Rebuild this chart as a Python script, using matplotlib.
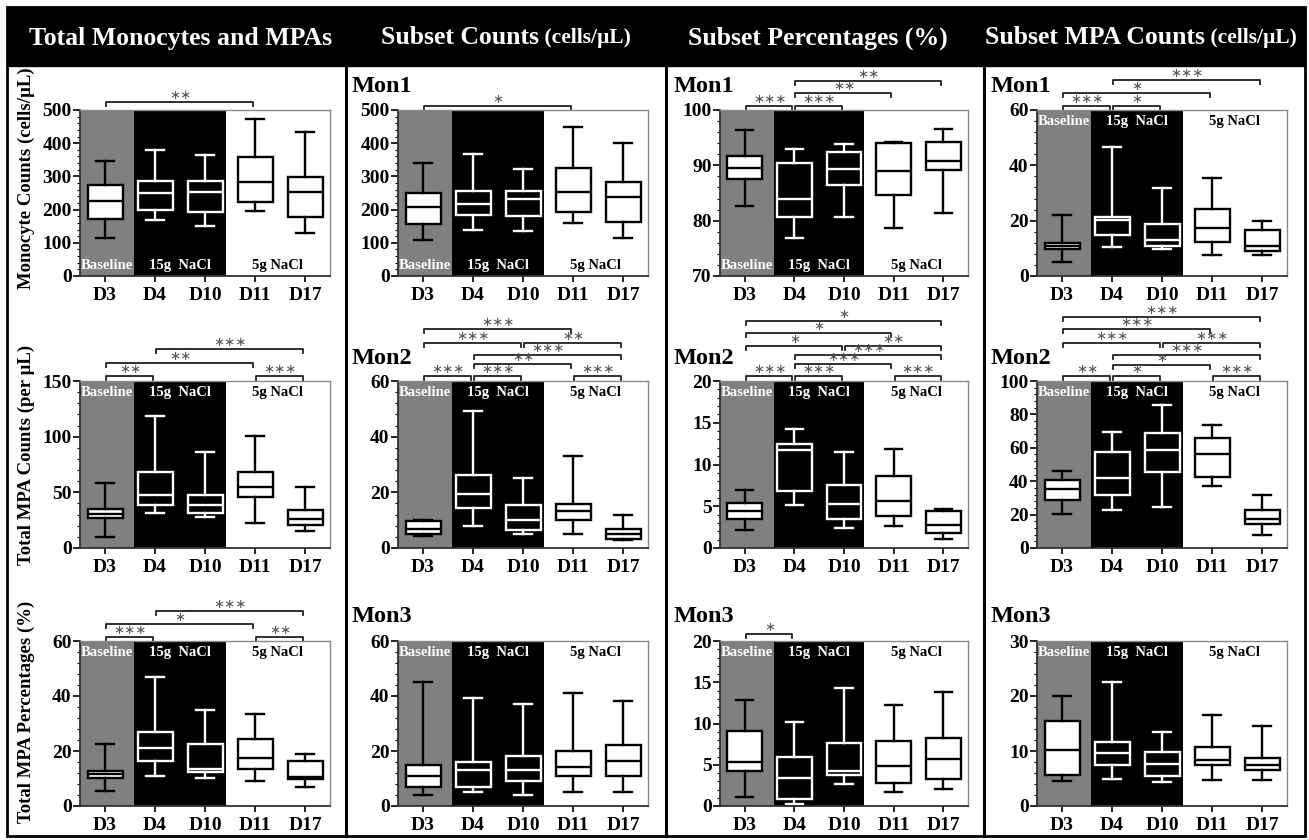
import matplotlib
matplotlib.use("Agg")
import matplotlib.pyplot as plt
from matplotlib.ticker import MultipleLocator, AutoMinorLocator
from matplotlib.patches import Rectangle
from matplotlib.lines import Line2D

plt.rcParams['font.family'] = ['Liberation Serif', 'DejaVu Serif']
plt.rcParams['font.weight'] = 'bold'

# categories
DAYS = ['D3', 'D4', 'D10', 'D11', 'D17']
REGIONS = ['Baseline', '15g  NaCl', '5g NaCl']

# box values per day: (whislo, q1, median, q3, whishi)
total_mono = [(115, 173, 227, 274, 347), (169, 199, 251, 287, 380), (152, 193, 254, 287, 364),
              (196, 222, 284, 357, 472), (131, 178, 254, 297, 433)]
mon1_counts = [(107, 157, 207, 249, 339), (139, 183, 216, 256, 366), (137, 181, 231, 257, 323),
               (161, 194, 254, 325, 448), (114, 162, 239, 283, 402)]
mon1_pct = [(82.7, 87.5, 89.6, 91.6, 96.4), (76.9, 80.7, 84.0, 90.5, 93.0), (80.6, 86.4, 89.3, 92.5, 93.9),
            (78.6, 84.6, 89.0, 94.0, 94.2), (81.4, 89.2, 90.7, 94.3, 96.5)]
mon1_mpa = [(5.1, 9.6, 10.8, 11.9, 22.0), (10.6, 14.8, 20.2, 21.2, 46.6), (9.8, 11.0, 13.0, 18.9, 31.9),
            (7.5, 12.3, 17.2, 24.1, 35.4), (7.5, 9.2, 10.8, 16.6, 19.8)]

total_mpa = [(10.0, 26.5, 30.7, 34.6, 58), (31.0, 38.3, 47.6, 68, 119), (28.0, 31.6, 38.3, 47.6, 86.4),
             (22.3, 46.1, 54.5, 68, 101), (15.1, 21.1, 26.2, 34.0, 54.8)]
mon2_counts = [(4.3, 5.2, 7.0, 9.6, 10.0), (8.0, 14.3, 19.4, 26.1, 49.2), (5.2, 6.4, 10.0, 15.3, 25.1),
               (5.2, 10.0, 13.4, 15.9, 33.1), (3.0, 3.3, 5.2, 7.0, 12.0)]
mon2_pct = [(2.2, 3.5, 4.4, 5.35, 6.9), (5.1, 6.8, 11.7, 12.4, 14.2), (2.4, 3.45, 5.3, 7.6, 11.5),
            (2.6, 3.85, 5.6, 8.6, 11.9), (1.05, 1.85, 2.8, 4.45, 4.7)]
mon2_mpa = [(20.3, 28.7, 35.3, 40.6, 46.2), (22.7, 31.7, 42.0, 57.6, 69.5), (24.7, 45.6, 58.8, 68.7, 85.9),
            (37.3, 42.8, 56.2, 65.7, 73.7), (8.0, 14.3, 17.1, 22.7, 31.7)]

total_mpa_pct = [(5.6, 10.1, 11.5, 12.8, 22.5), (10.9, 16.2, 21.0, 26.8, 46.8), (10.3, 12.2, 13.3, 22.5, 34.9),
                 (9.2, 13.3, 17.6, 24.2, 33.3), (7.0, 9.8, 10.7, 16.5, 18.9)]
mon3_counts = [(4.1, 7.0, 11.0, 15.0, 45.2), (5.0, 7.0, 13.1, 16.1, 39.3), (4.1, 9.1, 13.1, 18.2, 37.1),
               (5.0, 11.0, 14.3, 20.1, 41.2), (5.0, 11.0, 16.2, 22.1, 38.1)]
mon3_pct = [(1.1, 4.2, 5.3, 9.1, 12.8), (0.24, 0.9, 3.4, 6.0, 10.2), (2.7, 3.7, 4.2, 7.6, 14.3),
            (1.7, 2.8, 4.8, 7.9, 12.2), (2.1, 3.3, 5.7, 8.2, 13.8)]
mon3_mpa = [(4.6, 5.7, 10.1, 15.5, 20.0), (5.0, 7.4, 9.7, 11.7, 22.6), (4.3, 5.5, 7.7, 9.9, 13.5),
            (4.7, 7.4, 8.3, 10.7, 16.5), (4.7, 6.5, 7.4, 8.8, 14.5)]

# significance brackets: (from day index, to day index, stars, height above axes in px)
br_total_mono = [(0, 3, '**', 8)]
br_mon1_counts = [(0, 3, '*', 4)]
br_mon1_pct = [(0, 1, '***', 4), (1, 2, '***', 4), (1, 3, '**', 17), (1, 4, '**', 29)]
br_mon1_mpa = [(0, 1, '***', 4), (1, 2, '*', 4), (0, 3, '*', 17), (1, 4, '***', 30)]
br_total_mpa = [(0, 1, '**', 5), (3, 4, '***', 5), (0, 3, '**', 18), (1, 4, '***', 32)]
br_mon2_counts = [(0, 1, '***', 5), (1, 2, '***', 5), (3, 4, '***', 5), (1, 3, '**', 17), (1, 4, '***', 26),
                  (0, 2, '***', 38), (2, 4, '**', 38), (0, 3, '***', 52)]
br_mon2_pct = [(0, 1, '***', 5), (1, 2, '***', 5), (3, 4, '***', 5), (1, 3, '***', 17), (1, 4, '***', 26),
               (0, 2, '*', 35), (2, 4, '**', 35), (0, 3, '*', 48), (0, 4, '*', 60)]
br_mon2_mpa = [(0, 1, '**', 5), (1, 2, '*', 5), (3, 4, '***', 5), (1, 3, '*', 16), (1, 4, '***', 26),
               (0, 2, '***', 38), (2, 4, '***', 38), (0, 3, '***', 52), (0, 4, '***', 64)]
br_total_mpa_pct = [(0, 1, '***', 4), (3, 4, '**', 4), (0, 3, '*', 17), (1, 4, '***', 30)]
br_mon3_pct = [(0, 1, '*', 7)]

HEADERS = [[('Total Monocytes and MPAs', 18.5)],
           [('Subset Counts', 18.5), (' (cells/µL)', 15.5)],
           [('Subset Percentages (%)', 18.5)],
           [('Subset MPA Counts', 18.5), (' (cells/µL)', 15.5)]]
HEADER_X = [181, 506, 818, 1141]
YLABELS = ['Monocyte Counts (cells/µL)', 'Total MPA Counts (per µL)', 'Total MPA Percentages (%)']
YLABEL_Y = [178, 455, 712]
SUBSETS = ['Mon1', 'Mon2', 'Mon3']
SUBSET_Y = [87, 358, 616]

# grid of panels: (data, brackets, ylim, major step, region label at top?)
PANELS = [
    [(total_mono, br_total_mono, (0, 500), 100, False), (mon1_counts, br_mon1_counts, (0, 500), 100, False),
     (mon1_pct, br_mon1_pct, (70, 100), 10, False), (mon1_mpa, br_mon1_mpa, (0, 60), 20, True)],
    [(total_mpa, br_total_mpa, (0, 150), 50, True), (mon2_counts, br_mon2_counts, (0, 60), 20, True),
     (mon2_pct, br_mon2_pct, (0, 20), 5, True), (mon2_mpa, br_mon2_mpa, (0, 100), 20, True)],
    [(total_mpa_pct, br_total_mpa_pct, (0, 60), 20, True), (mon3_counts, [], (0, 60), 20, True),
     (mon3_pct, br_mon3_pct, (0, 20), 5, True), (mon3_mpa, [], (0, 30), 10, True)],
]

COL_X = [(80, 330), (398, 648), (720, 968), (1037, 1287)]
ROW_Y = [(110, 276), (381, 548), (641, 806)]

W, H = 1309, 840
fig = plt.figure(figsize=(W / 100, H / 100), dpi=100)


def fx(px):
    return px / W


def fy(py):
    return 1 - py / H


# outer frame, header band and column dividers
fig.add_artist(Rectangle((fx(7), fy(66)), fx(1305) - fx(7), fy(7) - fy(66), fc='black', ec='black',
                         transform=fig.transFigure))
fig.add_artist(Rectangle((fx(7), fy(836)), fx(1305) - fx(7), fy(7) - fy(836), fill=False, ec='black', lw=2,
                         transform=fig.transFigure))
for xd in [346, 666, 984]:
    fig.add_artist(Line2D([fx(xd), fx(xd)], [fy(66), fy(836)], color='black', lw=2.2,
                          transform=fig.transFigure))

renderer = fig.canvas.get_renderer()
for parts, cx in zip(HEADERS, HEADER_X):
    widths = []
    for txt, size in parts:
        t = fig.text(0, 0, txt, fontsize=size, fontweight='bold')
        widths.append(t.get_window_extent(renderer).width)
        t.remove()
    x = cx - sum(widths) / 2
    for (txt, size), w in zip(parts, widths):
        fig.text(fx(x), fy(38), txt, fontsize=size, fontweight='bold', color='white',
                 ha='left', va='center')
        x += w

for r, lab in enumerate(YLABELS):
    fig.text(fx(26), fy(YLABEL_Y[r]), lab, rotation=90, fontsize=13.5, fontweight='bold',
             ha='center', va='center')

for r in range(3):
    for c in range(1, 4):
        fig.text(fx(COL_X[c][0] - 46), fy(SUBSET_Y[r]), SUBSETS[r], fontsize=17.5, fontweight='bold',
                 ha='left', va='center')

positions = list(range(1, len(DAYS) + 1))
gray_end, black_end = 1.58, 3.41

for r in range(3):
    for c in range(4):
        data, brackets, ylim, step, label_top = PANELS[r][c]
        x0, x1 = COL_X[c]
        y0, y1 = ROW_Y[r]
        ax = fig.add_axes([fx(x0), fy(y1), fx(x1) - fx(x0), (y1 - y0) / H])
        ax_h = y1 - y0

        ax.set_xlim(0.5, 5.5)
        ax.set_ylim(*ylim)
        ax.axvspan(0.5, gray_end, color='#808080', zorder=0, lw=0)
        ax.axvspan(gray_end, black_end, color='black', zorder=0, lw=0)

        stats = [dict(whislo=d[0], q1=d[1], med=d[2], q3=d[3], whishi=d[4], fliers=[]) for d in data]
        bp = ax.bxp(stats, positions=positions, widths=0.7, patch_artist=True, showfliers=False)
        for i in range(len(DAYS)):
            in_black = gray_end < positions[i] < black_end
            ec = 'white' if in_black else 'black'
            fc = 'black' if in_black else 'white'
            bp['boxes'][i].set(facecolor=fc, edgecolor=ec, lw=1.7)
            bp['medians'][i].set(color=ec, lw=1.7)
            for k in (2 * i, 2 * i + 1):
                bp['whiskers'][k].set(color=ec, lw=1.7)
                bp['caps'][k].set(color=ec, lw=1.7)

        # region labels
        ly = 0.93 if label_top else 0.065
        centers = [(0.5 + gray_end) / 2, (gray_end + black_end) / 2, (black_end + 5.5) / 2]
        colors = ['white', 'white', 'black']
        for name, cxr, col in zip(REGIONS, centers, colors):
            ax.text(cxr, ly, name, transform=ax.get_xaxis_transform(), ha='center', va='center',
                    fontsize=10.5, fontweight='bold', color=col)

        ax.set_xticks(positions)
        ax.set_xticklabels(DAYS, fontsize=14, fontweight='bold')
        ax.yaxis.set_major_locator(MultipleLocator(step))
        ax.yaxis.set_minor_locator(AutoMinorLocator(5))
        ax.tick_params(axis='y', labelsize=14, length=5, width=1.2, pad=1)
        ax.tick_params(axis='y', which='minor', length=2.5, width=0.8)
        ax.tick_params(axis='x', length=4, width=1.2, pad=4)
        for lab in ax.get_yticklabels():
            lab.set_fontweight('bold')
        for side in ('top', 'right'):
            ax.spines[side].set_color('#8a8a8a')
            ax.spines[side].set_linewidth(1.0)
        for side in ('left', 'bottom'):
            ax.spines[side].set_color('#303030')
            ax.spines[side].set_linewidth(1.3)

        # significance brackets
        tr = ax.get_xaxis_transform()
        for a, b, stars, off in brackets:
            yb = 1 + off / ax_h
            tick = 4 / ax_h
            xa = positions[a] + 0.02
            xb = positions[b] - 0.05
            ax.plot([xa, xa, xb, xb], [yb - tick, yb, yb, yb - tick], transform=tr, color='#202020',
                    lw=1.3, clip_on=False)
            ax.text((positions[a] + positions[b]) / 2, yb + 6.5 / ax_h, '∗' * len(stars), transform=tr,
                    ha='center', va='center', fontsize=9.5, color='#555555', family='DejaVu Sans',
                    fontweight='normal', clip_on=False)

fig.savefig('out.png', dpi=100)
